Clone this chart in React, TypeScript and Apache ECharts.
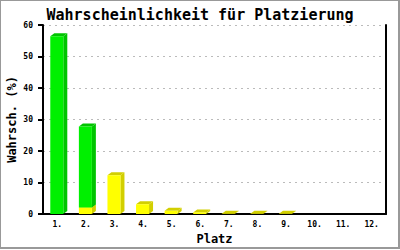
import React, { useEffect, useRef } from "react";
import * as echarts from "echarts";

const categories = ["1.", "2.", "3.", "4.", "5.", "6.", "7.", "8.", "9.", "10.", "11.", "12."];
const yellowValues = [0, 2.1, 12.3, 3.1, 1.0, 0.5, 0.1, 0.1, 0.1, 0, 0, 0];
const greenValues = [56.4, 25.7, 0, 0, 0, 0, 0, 0, 0, 0, 0, 0];
const yTicks = { min: 0, max: 60, interval: 10 };

const MONO = "'DejaVu Sans Mono', 'Liberation Mono', monospace";

function make3dRender(front: string, side: string, topC: string) {
  return (params: any, api: any) => {
    const i = api.value(0);
    const base = api.value(1);
    const top = api.value(2);
    const pb = api.coord([i, base]);
    const pt = api.coord([i, top]);
    const w = 13, d = 4, h = 3;
    const x0 = pb[0] - 7;
    return {
      type: "group",
      children: [
        {
          type: "polygon",
          shape: { points: [[x0 + w, pb[1]], [x0 + w + d, pb[1] - h], [x0 + w + d, pt[1] - h], [x0 + w, pt[1]]] },
          style: { fill: side },
        },
        {
          type: "polygon",
          shape: { points: [[x0, pt[1]], [x0 + d, pt[1] - h], [x0 + w + d, pt[1] - h], [x0 + w, pt[1]]] },
          style: { fill: topC },
        },
        {
          type: "rect",
          shape: { x: x0, y: pt[1], width: w, height: Math.max(0, pb[1] - pt[1]) },
          style: { fill: front },
        },
      ],
    };
  };
}

export default function App() {
  const ref = useRef<HTMLDivElement>(null);
  useEffect(() => {
    if (!ref.current) return;
    const chart = echarts.init(ref.current, undefined, { renderer: "svg" });
    const yellowData = categories
      .map((c, i) => [i, 0, yellowValues[i]])
      .filter((d) => d[2] > 0);
    const greenData = categories
      .map((c, i) => [i, yellowValues[i], yellowValues[i] + greenValues[i]])
      .filter((d, i) => greenValues[i] > 0);
    chart.setOption({
      animation: false,
      backgroundColor: "#ffffff",
      title: {
        text: "Wahrscheinlichkeit für Platzierung",
        left: "center",
        top: 2,
        textStyle: { fontFamily: MONO, fontWeight: "bold", fontSize: 15, color: "#000" },
      },
      graphic: [
        {
          type: "rect",
          shape: { x: 0, y: 0, width: 399, height: 248 },
          style: { fill: "none", stroke: "#999", lineWidth: 2 },
          silent: true,
        },
      ],
      grid: { left: 43, right: 14, top: 25, bottom: 36, outerBoundsMode: "none", containLabel: false },
      xAxis: {
        type: "category",
        data: categories,
        name: "Platz",
        nameLocation: "middle",
        nameGap: 19,
        nameMoveOverlap: false,
        nameTextStyle: { fontFamily: MONO, fontWeight: "bold", fontSize: 12, color: "#000" },
        axisLine: { lineStyle: { color: "#000", width: 2 } },
        axisTick: { show: false },
        axisLabel: { fontFamily: MONO, fontWeight: "bold", fontSize: 8, color: "#000", margin: 6 },
      },
      yAxis: [
        {
          type: "value",
          min: yTicks.min,
          max: yTicks.max,
          interval: yTicks.interval,
          name: "Wahrsch. (%)",
          nameLocation: "middle",
          nameRotate: 90,
          nameGap: 25,
          nameMoveOverlap: false,
          nameTextStyle: { fontFamily: MONO, fontWeight: "bold", fontSize: 12, color: "#000" },
          axisLine: { show: true, lineStyle: { color: "#000", width: 2 } },
          axisTick: { show: true, length: 5, lineStyle: { color: "#000", width: 2 } },
          axisLabel: { fontFamily: MONO, fontWeight: "bold", fontSize: 8, color: "#000", margin: 10 },
          splitLine: { show: true, lineStyle: { color: "#bbb", type: [2, 4], width: 1 } },
        },
        {
          type: "value",
          min: yTicks.min,
          max: yTicks.max,
          interval: yTicks.interval,
          position: "right",
          axisLine: { show: true, lineStyle: { color: "#000", width: 2 } },
          axisTick: { show: false },
          axisLabel: { show: false },
          splitLine: { show: false },
        },
      ],
      series: [
        {
          type: "custom",
          name: "yellow",
          coordinateSystem: "cartesian2d",
          renderItem: make3dRender("#ffff00", "#d2cf00", "#d2cf00"),
          encode: { x: 0, y: [1, 2] },
          data: yellowData,
        },
        {
          type: "custom",
          name: "green",
          coordinateSystem: "cartesian2d",
          renderItem: make3dRender("#00f000", "#00c400", "#00c400"),
          encode: { x: 0, y: [1, 2] },
          data: greenData,
        },
      ],
    });
    return () => chart.dispose();
  }, []);
  return (
    <div
      ref={ref}
      style={{ position: "absolute", left: 0, top: 0, width: 400, height: 250, background: "#fff" }}
    />
  );
}
